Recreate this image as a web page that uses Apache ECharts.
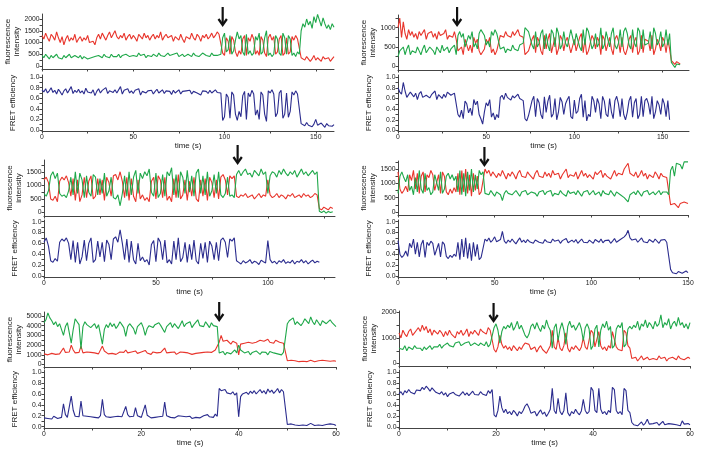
<!DOCTYPE html>
<html><head><meta charset="utf-8">
<script src="https://cdn.jsdelivr.net/npm/echarts@6/dist/echarts.min.js"></script>
<style>html,body{margin:0;padding:0;background:#fff}#c{width:701px;height:455px}</style>
</head><body><div id="c"></div>
<script>
// ---------- Panel 1 (frame 1 s) ----------
const p1Frame = 1;
const p1Red = [1300,1150,1400,1200,1050,1350,1250,1100,1450,1200,
1000,1250,900,1150,1300,1050,1200,1100,1350,1000,
1150,1250,1050,1200,1100,1300,1000,950,1050,900,
1200,1350,1150,1400,1250,1100,1300,1450,1200,1350,
1500,1250,1150,1300,1200,1400,1100,1250,1350,1150,
1300,1200,1050,1350,1250,1150,1400,1200,1300,1100,
1250,1350,1150,1300,1200,1450,1100,1250,1350,1200,
1150,1300,1050,1250,1200,1100,1350,1150,1000,1250,
1300,1150,1400,1200,1100,1350,1250,1050,1300,1200,
1350,1150,1250,1400,1200,1300,1450,1350,
1300,550,450,1200,1050,500,1250,1100,600,400,650,500,1150,1300,450,1200,1050,1350,1150,500,650,450,1250,1100,550,400,1200,1350,1100,1250,500,600,1150,1300,450,550,1200,500,600,1250,1100,1300,1150,1200,350,
300,250,400,350,200,300,450,250,350,300,200,400,300,250,350,200,300,400];
const p1Green = [450,350,500,400,300,450,350,400,500,350,
400,300,450,350,400,500,350,300,450,400,
350,450,300,400,350,300,250,350,300,400,
350,450,400,350,500,400,450,350,500,400,
450,400,500,350,450,400,500,450,400,350,
450,500,400,550,450,400,500,350,450,500,
400,500,450,400,550,450,500,400,450,550,
450,400,500,450,550,400,450,500,400,450,
500,450,400,550,450,500,400,450,550,500,
450,500,400,550,450,500,450,500,
500,1200,1400,600,700,1300,500,650,1100,1450,1150,1300,600,450,1350,500,650,450,550,1250,1100,1400,500,600,1200,1500,450,550,400,500,1300,1150,550,450,1400,1200,500,1300,1150,450,550,400,600,500,1500,
1800,1650,2000,1750,1900,1600,2100,1850,2200,1950,1700,2050,1800,1600,1750,1550,1800,1650];
const p1Fret = [0.76,0.72,0.78,0.70,0.74,0.80,0.71,0.75,0.68,0.77,
0.72,0.66,0.74,0.78,0.70,0.73,0.82,0.69,0.75,0.71,
0.77,0.70,0.74,0.68,0.79,0.72,0.75,0.70,0.76,0.65,
0.73,0.78,0.70,0.75,0.72,0.80,0.69,0.74,0.77,0.71,
0.76,0.70,0.73,0.82,0.68,0.75,0.72,0.78,0.70,0.74,
0.69,0.75,0.72,0.78,0.66,0.73,0.76,0.70,0.74,0.71,
0.75,0.68,0.73,0.77,0.70,0.72,0.76,0.69,0.74,0.71,
0.73,0.67,0.75,0.70,0.72,0.76,0.68,0.73,0.70,0.74,
0.71,0.75,0.68,0.73,0.76,0.70,0.72,0.66,0.74,0.71,
0.73,0.69,0.75,0.70,0.72,0.76,0.71,0.68,
0.70,0.18,0.25,0.68,0.62,0.22,0.72,0.66,0.30,0.18,0.35,0.25,0.65,0.73,0.20,0.70,0.63,0.75,0.68,0.28,0.38,0.20,0.72,0.66,0.30,0.16,0.74,0.70,0.76,0.68,0.25,0.32,0.70,0.75,0.22,0.30,0.70,0.24,0.35,0.72,0.66,0.74,0.68,0.70,0.12,
0.10,0.08,0.14,0.09,0.12,0.06,0.11,0.20,0.09,0.07,0.13,0.10,0.05,0.12,0.08,0.11,0.07,0.10];

// ---------- Panel 2 (frame 1 s) ----------
const p2Frame = 1;
const p2Red = [1000,1250,750,1150,850,700,950,800,900,750,
850,700,900,800,750,950,700,850,800,900,
750,850,700,900,800,750,850,950,700,800,
850,750,900,700,
400,350,500,300,700,650,400,550,350,750,600,700,400,300,250,450,700,600,750,350,450,300,400,350,800,850,750,900,800,850,750,900,800,850,950,800,850,750,300,250,400,350,
700,800,350,750,650,400,300,800,450,700,850,350,400,750,300,450,800,700,400,650,750,800,350,300,700,400,450,750,850,350,700,300,400,350,800,700,450,750,650,300,800,700,400,350,750,450,300,700,800,650,350,750,400,300,450,700,800,350,650,750,300,400,800,350,700,750,650,400,800,300,450,700,600,400,750,650,350,700,450,
150,100,50,120,80,60];
const p2Green = [250,400,350,500,300,450,550,300,400,450,
350,500,400,300,450,550,350,400,500,450,
400,300,500,450,350,550,400,450,500,350,
450,400,550,300,
800,900,750,850,500,550,800,700,900,500,600,450,850,950,1000,800,550,650,500,900,800,950,850,900,450,400,500,350,450,500,400,550,450,500,400,550,500,600,1000,1050,900,950,
550,450,900,500,600,850,950,450,850,550,400,950,850,500,1000,850,450,550,900,600,500,450,950,1000,550,850,800,500,400,950,550,1000,900,950,450,550,850,500,600,1000,450,550,900,950,500,850,1000,550,450,600,950,500,900,1000,850,550,450,950,600,500,1000,900,450,950,550,500,600,900,450,1000,850,550,650,900,500,600,950,550,850,
100,50,-30,60,20,40];
const p2Fret = [0.80,0.72,0.68,0.90,0.74,0.62,0.65,0.72,0.70,0.63,
0.70,0.58,0.69,0.73,0.62,0.64,0.66,0.68,0.61,0.67,
0.65,0.74,0.58,0.67,0.70,0.60,0.68,0.62,0.72,0.69,
0.66,0.64,0.70,0.68,
0.30,0.25,0.38,0.22,0.55,0.50,0.33,0.42,0.28,0.58,0.48,0.55,0.30,0.22,0.12,0.35,0.52,0.46,0.58,0.25,0.33,0.20,0.30,0.24,0.62,0.66,0.58,0.70,0.62,0.64,0.57,0.65,0.61,0.63,0.68,0.60,0.62,0.56,0.22,0.18,0.28,0.25,
0.56,0.64,0.26,0.60,0.52,0.30,0.22,0.63,0.34,0.55,0.66,0.25,0.31,0.60,0.20,0.35,0.62,0.54,0.30,0.50,0.58,0.64,0.26,0.22,0.57,0.32,0.36,0.60,0.68,0.25,0.56,0.18,0.30,0.26,0.64,0.56,0.34,0.60,0.50,0.22,0.64,0.55,0.30,0.26,0.60,0.35,0.22,0.56,0.64,0.50,0.26,0.60,0.30,0.20,0.34,0.56,0.64,0.25,0.52,0.60,0.22,0.30,0.64,0.26,0.56,0.60,0.50,0.30,0.64,0.22,0.35,0.56,0.48,0.30,0.60,0.50,0.26,0.56,0.20];

// ---------- Panel 3 (frame 1 s) ----------
const p3Frame = 1;
const p3Red = [1200,1300,1100,500,450,600,400,1150,1300,1200,
1350,1100,600,1250,450,1200,400,650,1300,550,
1150,1350,500,600,1250,650,1200,450,1300,1100,
600,1350,1400,1200,1500,1150,550,1300,450,1250,
600,400,1200,500,650,450,550,400,1150,1300,
500,1350,1200,550,1300,450,600,400,1250,550,
1400,500,650,1200,450,1150,600,1300,500,400,
1200,600,1250,450,1300,1100,550,1200,500,1300,
1400,1200,650,1350,1250,1350,
600,550,650,600,700,550,600,650,500,600,700,550,650,600,1200,650,550,600,700,550,650,600,500,650,600,700,550,600,650,550,700,600,650,550,600,700,650,
150,100,200,150,100,200,150];
const p3Green = [700,600,800,1350,1500,1250,1450,700,600,650,
550,800,1300,650,1500,700,1450,1200,550,1350,
750,600,1400,1300,650,1250,700,1450,600,800,
1300,550,500,650,250,700,1350,600,1500,650,
1300,1550,700,1450,1250,1500,1350,1600,750,600,
1450,550,700,1400,600,1500,1350,1650,650,1400,
550,1500,1300,700,1550,750,1350,600,1450,1600,
700,1350,650,1500,600,800,1400,700,1500,650,
550,700,1300,600,650,550,
1400,1550,1350,1500,1600,1400,1450,1300,1550,1450,1350,1600,1400,1500,700,1350,1500,1450,1300,1550,1400,1600,1450,1350,1500,1400,1550,1300,1450,1600,1400,1500,1350,1450,1550,1400,1500,
50,0,60,-20,40,0,30];
const p3Fret = [0.62,0.70,0.55,0.28,0.25,0.32,0.27,0.62,0.68,0.64,
0.70,0.60,0.30,0.65,0.25,0.62,0.22,0.35,0.66,0.28,
0.60,0.70,0.25,0.30,0.64,0.35,0.62,0.26,0.66,0.58,
0.30,0.68,0.72,0.62,0.85,0.60,0.30,0.68,0.25,0.64,
0.30,0.22,0.60,0.28,0.35,0.26,0.30,0.20,0.58,0.65,
0.26,0.70,0.62,0.30,0.66,0.24,0.30,0.22,0.64,0.30,
0.70,0.26,0.34,0.62,0.25,0.58,0.30,0.66,0.28,0.22,
0.60,0.32,0.62,0.25,0.64,0.55,0.30,0.62,0.28,0.66,
0.70,0.62,0.34,0.68,0.64,0.70,
0.28,0.25,0.22,0.28,0.24,0.26,0.30,0.23,0.27,0.25,0.21,0.29,0.26,0.24,0.65,
0.30,0.24,0.27,0.22,0.28,0.25,0.30,0.23,0.26,0.24,0.29,0.22,0.27,0.25,0.30,0.24,0.28,0.22,0.26,0.29,0.24,0.27,0.25];

// ---------- Panel 4 (frame 1 s) ----------
const p4Frame = 1;
const p4Red = [1400,800,650,750,900,700,1300,1100,1450,800,
1350,650,1250,1400,700,1300,1200,1450,1300,750,
700,1300,650,1400,1250,700,600,800,650,850,
700,1350,600,1450,700,1500,650,1300,550,1350,
750,1250,600,700,650,
1500,1350,1450,1250,1400,1300,1200,1350,1250,1450,1300,1150,1350,1250,1400,1300,1150,1350,1450,1250,1300,1200,1400,1300,1250,1150,1350,1450,1250,1300,1200,1400,1250,1350,1200,1450,1300,1250,1350,1150,1300,1250,1500,1200,1300,1350,1250,1400,1150,1300,1450,1250,1350,1200,1300,1250,1150,1400,1300,1250,1450,1200,1350,1250,1300,1150,1300,1450,1250,1350,1400,1300,1500,1450,1700,1350,1300,1250,1400,1200,1300,1450,1250,1350,1150,1300,1250,1200,1400,1300,1150,1350,1250,1300,1200,1250,
250,200,300,250,150,300,250,350,400,300];
const p4Green = [650,1250,1400,1200,1050,1300,750,900,600,1200,
700,1450,800,650,1350,750,850,600,700,1300,
1250,750,1400,650,800,1250,1350,1150,1300,1100,
1250,700,1450,600,1350,550,1400,750,1500,700,
1300,800,1450,1300,1400,
650,700,600,750,650,550,700,750,600,400,650,750,650,700,600,650,750,650,550,700,650,750,600,650,700,750,650,550,700,650,750,600,700,650,750,550,650,700,600,750,650,700,550,750,650,600,700,600,750,650,550,700,650,750,600,650,750,600,650,700,550,750,650,700,600,750,650,550,700,650,600,550,500,450,350,600,650,700,600,750,650,550,700,650,750,600,650,700,600,650,750,600,700,650,700,600,
1450,1600,1250,1700,1750,1650,1500,1750,1700,1750];
const p4Fret = [0.65,0.40,0.34,0.38,0.46,0.36,0.60,0.52,0.68,0.40,
0.62,0.35,0.58,0.66,0.34,0.62,0.56,0.64,0.60,0.38,
0.36,0.60,0.35,0.63,0.58,0.36,0.32,0.38,0.34,0.40,
0.36,0.62,0.30,0.68,0.35,0.70,0.32,0.60,0.28,0.62,
0.36,0.58,0.30,0.34,0.32,
0.68,0.64,0.70,0.62,0.66,0.72,0.63,0.60,0.67,0.82,0.64,0.60,0.66,0.62,0.68,0.63,0.59,0.65,0.70,0.62,0.66,0.61,0.67,0.63,0.65,0.60,0.66,0.69,0.62,0.64,0.60,0.67,0.63,0.65,0.61,0.68,0.64,0.62,0.66,0.60,0.65,0.63,0.69,0.61,0.64,0.66,0.62,0.67,0.60,0.64,0.68,0.62,0.65,0.61,0.66,0.63,0.60,0.67,0.64,0.62,0.68,0.61,0.65,0.63,0.66,0.60,0.64,0.69,0.62,0.65,0.67,0.70,0.72,0.76,0.84,0.70,0.66,0.64,0.68,0.62,0.65,0.70,0.63,0.66,0.61,0.67,0.64,0.62,0.68,0.65,0.60,0.66,0.63,0.67,0.62,0.65,
0.12,0.06,0.09,0.04,0.08,0.10,0.05,0.07,0.09,0.06];

// ---------- Panel 5 (frame 0.4 s) ----------
const p5Frame = 0.4;
const p5Red = [1100,1300,1000,1200,1150,1350,1050,1250,1100,1200,
1700,1250,1100,1300,2000,1500,1200,1050,1250,1900,
1200,1100,1300,1150,1250,1050,1200,1300,1100,1250,
1900,1400,1200,1100,1300,1150,1250,1050,1200,1300,
1150,1250,1500,1200,1100,1300,1200,1400,1150,1250,
1300,1100,1450,1200,1250,1050,1300,1150,1200,1100,
1250,1300,1700,1200,1100,1250,1150,1300,1050,1200,
1300,1150,1250,1100,1200,1350,1050,1250,1150,1300,
1200,1350,1250,1400,1300,1450,1250,1350,1500,1400,
2300,3000,2400,2200,2500,2300,2100,2400,2600,2200,
1000,2100,2300,2200,2400,2300,2500,2200,2400,2300,
2200,2500,2300,2400,2200,2600,2300,2400,2200,2500,
2600,2300,2500,2200,2400,
400,350,450,300,400,350,300,450,350,400,300,350,450,400,300,350,400,300,450,350,400,300,350,450,400,350];
const p5Green = [4300,4600,5300,4800,4500,4100,4400,3900,4200,4000,
3000,3900,4300,4100,2200,3600,4700,4400,4100,1600,
3900,4400,4100,4300,3800,4000,4200,3700,4100,3900,
2100,3600,4100,3800,4300,3900,4200,3700,4000,4400,
4100,3800,2900,3900,4200,4000,3700,3100,3900,4100,
4300,3800,3000,3700,4000,4200,3800,4100,3900,4300,
4000,3800,3300,3900,4100,4300,3800,4200,4000,3700,
4100,4500,3900,4200,4000,4400,3800,4100,4300,4600,
4000,4200,3900,4400,4100,3800,4300,4000,4200,3900,
1200,1100,1350,1000,1250,1400,1100,1300,1500,1200,
2000,1500,1300,1200,1100,1350,1000,1250,1150,1400,
1200,1050,1300,1100,1250,1000,1350,1150,1200,1050,
1100,1300,1000,1250,1150,
4200,4500,4300,4800,4100,4400,4600,4000,4300,4700,4500,4200,4900,4400,4100,4600,4300,4000,4500,4700,4200,4400,4600,4300,4100,3900];
const p5Fret = [0.16,0.18,0.15,0.17,0.14,0.19,0.16,0.15,0.18,0.17,
0.42,0.22,0.17,0.20,0.56,0.30,0.19,0.16,0.18,0.47,
0.20,0.17,0.19,0.16,0.18,0.21,0.17,0.19,0.16,0.20,
0.50,0.22,0.18,0.19,0.17,0.20,0.18,0.16,0.19,0.17,
0.18,0.20,0.37,0.22,0.18,0.17,0.19,0.35,0.20,0.18,
0.17,0.19,0.40,0.21,0.18,0.16,0.19,0.17,0.20,0.18,
0.17,0.19,0.45,0.20,0.18,0.17,0.19,0.16,0.18,0.20,
0.17,0.19,0.16,0.18,0.17,0.19,0.15,0.18,0.17,0.20,
0.16,0.18,0.20,0.17,0.22,0.18,0.21,0.17,0.23,0.19,
0.70,0.66,0.64,0.68,0.62,0.65,0.60,0.64,0.58,0.62,
0.18,0.55,0.60,0.57,0.63,0.59,0.65,0.61,0.66,0.60,
0.64,0.68,0.62,0.66,0.60,0.69,0.63,0.67,0.61,0.65,
0.70,0.62,0.68,0.64,0.66,
0.04,0.03,0.05,0.02,0.03,0.04,0.02,0.05,0.03,0.04,0.02,0.03,0.06,0.03,0.02,0.04,0.03,0.05,0.02,0.03,0.04,0.02,0.05,0.03,0.04,0.02];

// ---------- Panel 6 (frame 0.4 s) ----------
const p6Frame = 0.4;
const p6Red = [1200,1000,1300,1150,1050,1250,1350,1100,1200,1300,
1400,1250,1500,1300,1450,1200,1350,1100,1300,1250,
1150,1300,1200,1050,1250,1100,1300,1150,1200,1000,
1250,1150,1300,1100,1200,1350,1050,1250,1150,1300,
1200,1100,1350,1250,1300,1150,1400,1300,1350,
550,450,650,1100,750,600,700,550,650,500,700,
600,500,650,550,700,800,850,750,550,500,
650,450,600,700,550,600,400,550,700,1300,
650,550,1000,600,500,700,1200,600,450,650,
550,700,600,500,650,1000,650,550,600,1300,
1200,650,600,1250,700,550,650,500,700,600,
1250,1200,650,550,600,500,1300,1200,700,600,
200,150,250,100,200,300,150,200,250,150,100,200,250,150,300,200,150,250,100,200,150,250,200,150,300,200,250,150,200,250,200];
const p6Green = [600,650,550,700,500,650,600,550,700,600,
550,600,500,650,550,600,700,550,650,700,
650,750,600,700,650,800,700,750,650,800,
750,850,700,650,800,750,850,700,650,800,
750,700,800,750,700,850,650,750,700,
1400,1550,1300,800,1250,1450,1350,1500,1400,1600,1300,
1450,1650,1350,1500,1300,1100,1000,1150,1450,1550,
1350,1600,1400,1250,1500,1350,1700,1450,1300,600,
1400,1550,900,1350,1600,1300,750,1450,1650,1400,
1500,1300,1450,1600,1350,900,1400,1550,1350,550,
700,1350,1500,650,1300,1550,1400,1650,1300,1450,
600,700,1350,1500,1400,1600,650,750,1350,1450,
1350,1500,1400,1650,1300,1550,1450,1700,1400,1600,1500,1350,1650,1450,1550,1900,1400,1600,1500,1750,1350,1550,1650,1450,1800,1500,1600,1400,1550,1350,1600];
const p6Fret = [0.60,0.64,0.58,0.66,0.62,0.68,0.63,0.65,0.60,0.67,
0.70,0.66,0.72,0.68,0.74,0.70,0.65,0.71,0.68,0.63,
0.66,0.60,0.64,0.58,0.62,0.55,0.60,0.57,0.63,0.59,
0.61,0.56,0.60,0.64,0.58,0.62,0.57,0.61,0.65,0.59,
0.62,0.58,0.64,0.60,0.63,0.57,0.66,0.61,0.68,
0.22,0.18,0.30,0.56,0.35,0.26,0.32,0.24,0.28,0.22,0.30,
0.26,0.20,0.28,0.24,0.30,0.38,0.42,0.35,0.25,0.22,
0.28,0.20,0.26,0.31,0.23,0.27,0.19,0.25,0.32,0.70,
0.30,0.24,0.52,0.28,0.22,0.30,0.62,0.26,0.20,0.28,
0.24,0.32,0.26,0.22,0.29,0.50,0.30,0.24,0.28,0.72,
0.66,0.30,0.26,0.70,0.32,0.24,0.28,0.22,0.30,0.26,
0.72,0.68,0.30,0.24,0.28,0.22,0.70,0.66,0.30,0.26,
0.08,0.04,0.06,0.02,0.05,0.09,0.03,0.07,0.14,0.05,0.02,0.06,0.04,0.08,0.03,0.05,0.10,0.04,0.02,0.06,0.03,0.05,0.08,0.04,0.07,0.02,0.11,0.05,0.03,0.06,0.04];

// ---------- axis ticks / labels ----------
const xLabelsLong1 = [0,50,100,150];
const xTicksLong1 = [0,25,50,75,100,125,150];
const xLabels3 = [0,50,100];
const xTicks3 = [0,25,50,75,100,125];
const xLabelsShort = [0,20,40,60];
const xTicksShort = [0,10,20,30,40,50,60];
const yLabels1 = [0,500,1000,1500,2000];
const yLabels2 = [0,500,1000];
const yLabels3 = [0,500,1000,1500];
const yLabels5 = [0,1000,2000,3000,4000,5000];
const yLabels6 = [0,1000,2000];
const fretLabels = [0,0.2,0.4,0.6,0.8,1.0];
const fretTicks = [0,0.1,0.2,0.3,0.4,0.5,0.6,0.7,0.8,0.9,1.0];
const arrowTimes = [99, 33.5, 86.5, 44.7, 36, 19.5];

function halfTicks(lbl){const out=[];for(let i=0;i<lbl.length;i++){out.push(lbl[i]);if(i<lbl.length-1)out.push((lbl[i]+lbl[i+1])/2);}return out;}

const panels = [
 {frame:p1Frame, red:p1Red, green:p1Green, fret:p1Fret, xMax:160, xL:xLabelsLong1, xT:xTicksLong1, yL:yLabels1, yMin:-128, yMax:2213,
  L:{left:42,width:292,t1:14,h1:55,t2:75,h2:56,eMin:-0.02,eMax:1.04, tip:25, tail:7}},
 {frame:p2Frame, red:p2Red, green:p2Green, fret:p2Fret, xMax:165, xL:xLabelsLong1, xT:xTicksLong1, yL:yLabels2, yMin:-96, yMax:1329, yTop:1250,
  L:{left:398,width:291,t1:15,h1:55,t2:75,h2:56,eMin:-0.01,eMax:1.04, tip:25, tail:7}},
 {frame:p3Frame, red:p3Red, green:p3Green, fret:p3Fret, xMax:130, xL:xLabels3, xT:xTicks3, yL:yLabels3, yMin:-126, yMax:1932, yTop:1750,
  L:{left:44,width:291,t1:160,h1:56,t2:220,h2:57,eMin:-0.02,eMax:1.03, tip:163, tail:145}},
 {frame:p4Frame, red:p4Red, green:p4Green, fret:p4Fret, xMax:150, xL:xLabelsLong1, xT:xTicksLong1, yL:yLabels3, yMin:-105, yMax:1779, yTop:1750,
  L:{left:398,width:290,t1:161,h1:54,t2:220,h2:57,eMin:-0.02,eMax:1.03, tip:165, tail:147}},
 {frame:p5Frame, red:p5Red, green:p5Green, fret:p5Fret, xMax:60, xL:xLabelsShort, xT:xTicksShort, yL:yLabels5, yMin:-248, yMax:5400,
  L:{left:44,width:292,t1:312,h1:55,t2:370.5,h2:57.5,eMin:-0.025,eMax:1.03, tip:320, tail:302}},
 {frame:p6Frame, red:p6Red, green:p6Green, fret:p6Fret, xMax:60, xL:xLabelsShort, xT:xTicksShort, yL:yLabels6, yMin:-94, yMax:2051,
  L:{left:399,width:291,t1:311,h1:55,t2:370,h2:58,eMin:-0.02,eMax:1.035, tip:321, tail:303}}
];

const FONT = '"Liberation Sans",Arial,sans-serif';
const AX = '#444', TXT = '#222';
const RED = '#e8352c', GREEN = '#1fa84a', BLUE = '#2b2c8e';
const LW = 1.1, TICKFS = 6.8, NAMEFS = 8;

const grid=[], xAxis=[], yAxis=[], series=[];
panels.forEach((p,k)=>{
  const L=p.L;
  grid.push({left:L.left,top:L.t1,width:L.width,height:L.h1,outerBoundsMode:'none'});
  grid.push({left:L.left,top:L.t2,width:L.width,height:L.h2,outerBoundsMode:'none'});
  const xBase = (gi, withLabels)=>({
    type:'value', gridIndex:gi, min:0, max:p.xMax,
    axisLine:{show:true,onZero:false,lineStyle:{color:AX,width:1}},
    axisTick:{show:true,customValues:p.xT,length:2.5,lineStyle:{color:AX,width:1}},
    axisLabel:{show:withLabels,customValues:p.xL,fontSize:TICKFS,color:TXT,margin:2.5,fontFamily:FONT,formatter:v=>String(v)},
    splitLine:{show:false},
    name: withLabels?'time (s)':'', nameLocation:'middle', nameGap:11, nameMoveOverlap:false,
    nameTextStyle:{fontSize:8,color:TXT,fontFamily:FONT}
  });
  xAxis.push(xBase(2*k,false));
  xAxis.push(xBase(2*k+1,true));
  const yTicks = halfTicks(p.yL);
  if (p.yTop) yTicks.push(p.yTop);
  yAxis.push({type:'value',gridIndex:2*k,min:p.yMin,max:p.yMax,
    axisLine:{show:true,lineStyle:{color:AX,width:1}},
    axisTick:{show:true,customValues:yTicks,length:2.5,lineStyle:{color:AX,width:1}},
    axisLabel:{customValues:p.yL,fontSize:TICKFS,color:TXT,margin:2.5,fontFamily:FONT,formatter:v=>String(v)},
    splitLine:{show:false},
    name:'fluorescence\nintensity',nameLocation:'middle',nameRotate:90,nameGap:21,nameMoveOverlap:false,
    nameTextStyle:{fontSize:NAMEFS,lineHeight:8.5,color:TXT,fontFamily:FONT}});
  yAxis.push({type:'value',gridIndex:2*k+1,min:L.eMin,max:L.eMax,
    axisLine:{show:true,lineStyle:{color:AX,width:1}},
    axisTick:{show:true,customValues:fretTicks,length:2.5,lineStyle:{color:AX,width:1}},
    axisLabel:{customValues:fretLabels,fontSize:TICKFS,color:TXT,margin:2.5,fontFamily:FONT,formatter:v=>Number(v).toFixed(1)},
    splitLine:{show:false},
    name:'FRET efficiency',nameLocation:'middle',nameRotate:90,nameGap:25,nameMoveOverlap:false,
    nameTextStyle:{fontSize:NAMEFS,color:TXT,fontFamily:FONT}});
  const toXY = arr => arr.map((v,i)=>[i*p.frame, v]);
  const common = {type:'line',showSymbol:false,symbol:'none',animation:false,silent:true,sampling:null};
  series.push(Object.assign({},common,{name:'acceptor',xAxisIndex:2*k,yAxisIndex:2*k,data:toXY(p.red),lineStyle:{color:RED,width:LW},itemStyle:{color:RED},z:2}));
  series.push(Object.assign({},common,{name:'donor',xAxisIndex:2*k,yAxisIndex:2*k,data:toXY(p.green),lineStyle:{color:GREEN,width:LW},itemStyle:{color:GREEN},z:3}));
  series.push(Object.assign({},common,{name:'FRET',xAxisIndex:2*k+1,yAxisIndex:2*k+1,data:toXY(p.fret),lineStyle:{color:BLUE,width:LW},itemStyle:{color:BLUE},z:2}));
});

const chart = echarts.init(document.getElementById('c'),null,{renderer:'canvas'});
chart.setOption({animation:false,backgroundColor:'#fff',grid,xAxis,yAxis,series});

const graphics=[];
panels.forEach((p,k)=>{
  const x = chart.convertToPixel({xAxisIndex:2*k}, arrowTimes[k]);
  const tip=p.L.tip, tail=p.L.tail;
  graphics.push({type:'line',shape:{x1:x,y1:tail,x2:x,y2:tip-1},style:{stroke:'#111',lineWidth:2.2},z:100});
  graphics.push({type:'polyline',shape:{points:[[x-4.2,tip-6],[x,tip],[x+4.2,tip-6]]},style:{stroke:'#111',lineWidth:2.2,fill:null},z:100});
});
chart.setOption({graphic:graphics});
</script>
</body></html>
